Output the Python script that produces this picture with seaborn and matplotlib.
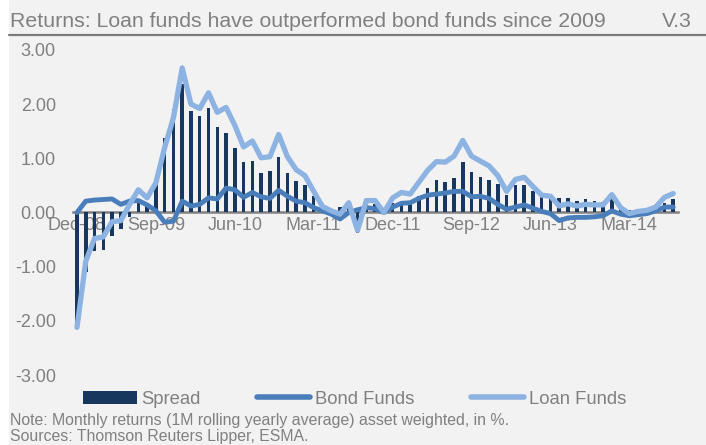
import numpy as np
import pandas as pd
import matplotlib
matplotlib.use("Agg")
import matplotlib.pyplot as plt
from matplotlib.lines import Line2D
from matplotlib.patches import Patch, Rectangle
import seaborn as sns

# ----------------------------
# Data (monthly, Dec-08 .. Aug-14), returns in %
# ----------------------------
months = pd.date_range("2008-12-01", "2014-08-01", freq="MS").strftime("%b-%y").tolist()

loan_funds = [
    -2.12, -0.90, -0.48, -0.45, -0.17, -0.15, 0.15, 0.42, 0.27, 0.55,
    1.20, 1.75, 2.67, 2.00, 1.92, 2.21, 1.85, 1.94, 1.61, 1.21,
    1.32, 1.01, 1.03, 1.44, 1.03, 0.79, 0.68, 0.39, 0.11, 0.03,
    -0.03, 0.18, -0.33, 0.22, 0.22, 0.00, 0.27, 0.37, 0.34, 0.56,
    0.78, 0.94, 0.93, 1.04, 1.33, 1.04, 0.95, 0.86, 0.68, 0.39,
    0.61, 0.65, 0.48, 0.32, 0.30, 0.12, 0.16, 0.12, 0.15, 0.14,
    0.14, 0.33, 0.09, -0.02, 0.02, 0.04, 0.10, 0.28, 0.35,
]

bond_funds = [
    0.00, 0.21, 0.23, 0.24, 0.25, 0.15, 0.21, 0.22, 0.14, 0.03,
    -0.18, -0.16, 0.21, 0.12, 0.15, 0.27, 0.25, 0.45, 0.42, 0.28,
    0.37, 0.29, 0.26, 0.41, 0.30, 0.21, 0.18, 0.09, 0.03, -0.03,
    -0.12, 0.00, 0.05, 0.09, 0.07, 0.00, 0.10, 0.17, 0.18, 0.26,
    0.32, 0.34, 0.36, 0.39, 0.39, 0.29, 0.30, 0.26, 0.15, 0.06,
    0.10, 0.14, 0.08, 0.02, -0.02, -0.15, -0.10, -0.09, -0.09, -0.08,
    -0.06, 0.03, -0.03, -0.06, -0.04, -0.02, 0.03, 0.10, 0.10,
]

spread = [
    -2.12, -1.10, -0.72, -0.70, -0.43, -0.30, -0.08, 0.18, 0.13, 0.52,
    1.38, 1.91, 2.38, 1.87, 1.78, 1.92, 1.57, 1.47, 1.19, 0.93,
    0.95, 0.72, 0.77, 1.02, 0.73, 0.58, 0.50, 0.30, 0.08, 0.07,
    0.10, 0.18, -0.38, 0.13, 0.15, 0.00, 0.17, 0.20, 0.16, 0.30,
    0.46, 0.60, 0.57, 0.64, 0.94, 0.75, 0.65, 0.60, 0.53, 0.33,
    0.51, 0.51, 0.40, 0.30, 0.32, 0.27, 0.26, 0.21, 0.24, 0.22,
    0.20, 0.30, 0.12, 0.04, 0.06, 0.06, 0.07, 0.18, 0.25,
]

y_ticks = [3, 2, 1, 0, -1, -2, -3]

title = "Returns: Loan funds have outperformed bond funds since 2009"
tag = "V.3"
note = "Note: Monthly returns (1M rolling yearly average) asset weighted, in %."
source = "Sources: Thomson Reuters Lipper, ESMA."

# colours
NAVY = "#17375e"
BOND = "#4a7ebb"
LOAN = "#8db3e2"
GREY_TXT = "#808080"
PANEL = "#f2f2f2"

# ----------------------------
# Style
# ----------------------------
sns.set_style("white")
plt.rcParams["font.family"] = ["Liberation Sans", "DejaVu Sans"]

W, H = 706, 445
fig = plt.figure(figsize=(W / 100, H / 100), dpi=100, facecolor="white")
fig.add_artist(Rectangle((9 / W, 0), 1, 1, transform=fig.transFigure,
                         facecolor=PANEL, edgecolor="none", zorder=-10))

ax = fig.add_axes([72.6 / W, 1 - 375 / H, 605 / W, 325 / H])
ax.set_facecolor(PANEL)

df = pd.DataFrame({"month": months, "spread": spread,
                   "bond": bond_funds, "loan": loan_funds})
df["pos"] = np.arange(len(df))

sns.barplot(data=df, x="month", y="spread", color=NAVY, width=0.4,
            saturation=1, linewidth=0, edgecolor="none", ax=ax, zorder=2)
sns.lineplot(data=df, x="pos", y="bond", color=BOND, linewidth=3.5,
             ax=ax, zorder=3)
sns.lineplot(data=df, x="pos", y="loan", color=LOAN, linewidth=3.8,
             ax=ax, zorder=4)

ax.set_xlim(-0.5, len(df) - 0.5)
ax.set_ylim(-3, 3)
ax.set_xlabel("")
ax.set_ylabel("")

tick_pos = list(range(0, len(df), 9))
ax.set_xticks(tick_pos)
ax.set_xticklabels([months[i] for i in tick_pos])
ax.set_yticks(y_ticks)
ax.set_yticklabels([f"{v:.2f}" for v in y_ticks])

for s in ["left", "right", "top"]:
    ax.spines[s].set_visible(False)
ax.spines["bottom"].set_position(("data", 0))
ax.spines["bottom"].set_color(GREY_TXT)
ax.spines["bottom"].set_linewidth(1.8)
ax.spines["bottom"].set_zorder(1.5)

ax.tick_params(axis="x", length=0, pad=3, labelsize=13, labelcolor=GREY_TXT)
ax.tick_params(axis="y", length=0, pad=12, labelsize=13, labelcolor=GREY_TXT)
ax.grid(False)

# ----------------------------
# Header, legend, footer
# ----------------------------
fig.text(10 / W, 1 - 27 / H, title, fontsize=15.3, color=GREY_TXT, va="baseline")
fig.text(692 / W, 1 - 27 / H, tag, fontsize=15.3, color=GREY_TXT,
         va="baseline", ha="right")
fig.add_artist(Line2D([9 / W, 1], [1 - 34.5 / H] * 2, transform=fig.transFigure,
                      color="#7a7a7a", linewidth=1.6))

handles = [
    Patch(facecolor=NAVY, edgecolor="none", label="Spread"),
    Line2D([], [], color=BOND, linewidth=4, solid_capstyle="round", label="Bond Funds"),
    Line2D([], [], color=LOAN, linewidth=4, solid_capstyle="round", label="Loan Funds"),
]
leg = fig.legend(handles=handles, loc="center left", bbox_to_anchor=(83 / W, 1 - 399 / H),
                 ncol=3, frameon=False, fontsize=13.3, handlelength=2.9,
                 handletextpad=0.25, columnspacing=3.05, borderpad=0, borderaxespad=0)
for t in leg.get_texts():
    t.set_color(GREY_TXT)

fig.text(10 / W, 1 - 420 / H, note, fontsize=11.4, color=GREY_TXT, va="center")
fig.text(10 / W, 1 - 436.5 / H, source, fontsize=11.4, color=GREY_TXT, va="center")

fig.savefig("out.png", dpi=100, facecolor=fig.get_facecolor())
